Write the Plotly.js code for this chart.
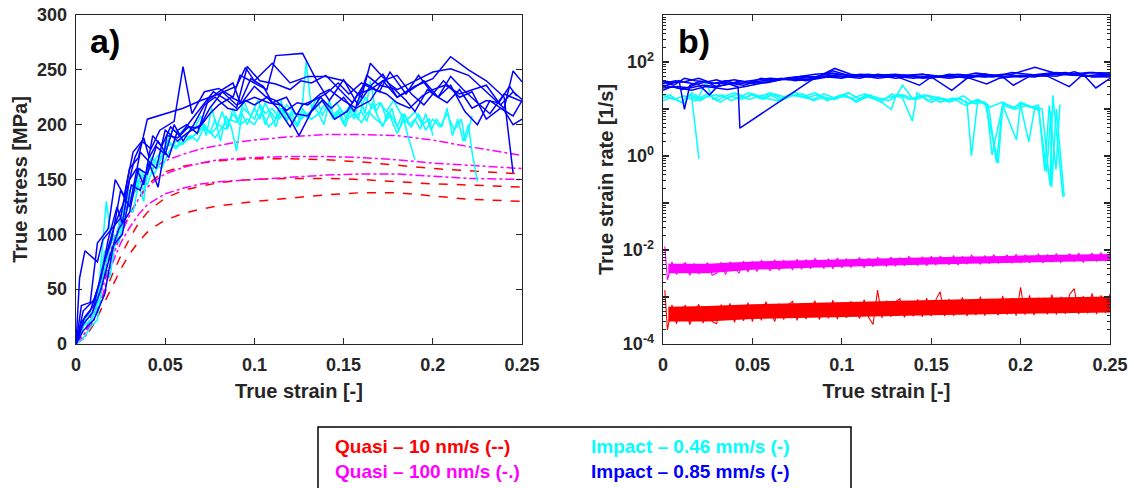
<!DOCTYPE html>
<html>
<head>
<meta charset="utf-8">
<script src="https://cdn.plot.ly/plotly-3.0.1.min.js"></script>
<style>
html,body{margin:0;padding:0;background:#fff;}
#chart{width:1134px;height:488px;}
</style>
</head>
<body>
<div id="chart"></div>
<script>
// ---------- Panel a) true stress vs true strain ----------
// Impact 0.85 mm/s (blue, 7 tests)
const b1x = [0,0.002,0.005,0.012,0.015,0.02,0.025,0.03,0.035,0.04,0.05,0.06,0.07,0.08,0.09,0.095,0.1,0.11,0.12,0.13,0.14,0.15,0.16,0.165,0.175,0.18,0.19,0.2,0.21,0.22,0.23,0.24,0.245,0.25];
const b1y = [0,60,85,75,95,105,115,160,170,205,210,215,222,228,235,252,240,256,238,244,244,240,225,256,238,232,240,248,251,245,230,215,249,239];
const b2x = [0,0.003,0.008,0.012,0.018,0.022,0.027,0.032,0.037,0.042,0.047,0.055,0.06,0.065,0.072,0.08,0.088,0.092,0.1,0.107,0.112,0.127,0.135,0.142,0.15,0.158,0.165,0.172,0.18,0.19,0.2,0.21,0.22,0.23,0.24,0.245];
const b2y = [0,35,38,92,105,150,135,175,185,178,195,203,253,210,230,233,225,245,238,232,263,265,240,222,241,218,235,246,225,235,242,262,250,240,225,156];
const b3x = [0,0.004,0.01,0.014,0.018,0.023,0.026,0.03,0.034,0.038,0.043,0.048,0.053,0.058,0.065,0.07,0.077,0.085,0.09,0.096,0.103,0.112,0.12,0.126,0.132,0.14,0.148,0.155,0.162,0.17,0.176,0.185,0.192,0.2,0.206,0.215,0.222,0.23,0.238,0.245,0.25];
const b3y = [0,30,40,60,95,125,110,150,160,145,190,180,198,190,205,215,230,222,215,253,240,237,232,240,238,245,232,220,238,230,248,228,245,228,240,225,230,205,215,208,222];
const b4x = [0,0.005,0.01,0.015,0.02,0.025,0.03,0.036,0.04,0.045,0.05,0.057,0.062,0.07,0.075,0.082,0.09,0.1,0.108,0.115,0.12,0.125,0.132,0.138,0.145,0.152,0.158,0.165,0.172,0.18,0.188,0.195,0.203,0.21,0.218,0.225,0.232,0.24,0.245,0.25];
const b4y = [0,25,35,70,95,140,125,175,168,160,195,185,192,200,215,230,218,225,220,218,205,190,212,222,205,212,228,232,240,225,232,240,225,236,212,200,222,213,200,205];
const b5x = [0,0.003,0.008,0.013,0.018,0.022,0.027,0.033,0.038,0.041,0.046,0.052,0.057,0.062,0.068,0.074,0.08,0.088,0.092,0.098,0.105,0.11,0.118,0.123,0.13,0.137,0.143,0.15,0.156,0.163,0.17,0.178,0.185,0.19,0.197,0.203,0.21,0.217,0.225,0.232,0.24,0.25];
const b5y = [0,20,30,55,88,110,130,170,188,170,185,170,195,200,192,222,230,238,220,242,235,220,225,210,208,225,215,225,212,245,236,233,222,212,232,225,244,232,220,210,228,221];
const b6x = [0,0.004,0.009,0.014,0.019,0.024,0.03,0.035,0.04,0.045,0.05,0.055,0.06,0.066,0.072,0.078,0.085,0.09,0.095,0.1,0.107,0.113,0.12,0.127,0.133,0.14,0.147,0.153,0.16,0.167,0.174,0.18,0.187,0.194,0.2,0.207,0.215,0.222,0.23,0.238,0.245,0.25];
const b6y = [0,18,28,50,80,105,120,160,155,180,173,200,185,200,218,225,215,213,222,218,225,215,198,218,222,228,238,228,238,232,228,220,215,226,232,236,228,232,236,218,230,223];
const b7x = [0,0.004,0.01,0.016,0.021,0.026,0.031,0.036,0.041,0.046,0.051,0.057,0.063,0.069,0.075,0.08,0.087,0.093,0.1,0.106,0.112,0.118,0.124,0.13,0.137,0.142,0.15,0.157,0.165,0.172,0.18,0.188,0.195,0.2,0.208,0.215,0.222,0.23,0.237,0.243,0.247];
const b7y = [0,12,22,45,90,100,145,140,165,143,190,188,198,197,210,218,225,220,235,226,222,213,220,218,228,232,222,215,222,240,245,228,218,228,220,232,215,222,220,235,226];

// Impact 0.46 mm/s (cyan, 4 tests)
const c1x = [0,0.003,0.006,0.01,0.013,0.017,0.019,0.022,0.026,0.03,0.034,0.038,0.04,0.044,0.048,0.052,0.056,0.06,0.064,0.068,0.072,0.075,0.078,0.081,0.084,0.087,0.09,0.093,0.096,0.1,0.103,0.106,0.109,0.112,0.115,0.118,0.121,0.124,0.127,0.129,0.132,0.135,0.138,0.141,0.144,0.147,0.15,0.153,0.156,0.159,0.162,0.165,0.168,0.171,0.174,0.177,0.18,0.183,0.186,0.19];
const c1y = [0,10,25,30,55,130,105,90,115,140,150,130,165,155,170,185,178,190,188,192,200,192,205,185,208,198,176,210,200,215,205,220,210,198,215,205,212,208,220,257,215,225,208,218,205,212,200,215,205,225,210,240,212,220,205,215,198,210,190,168];
const c2x = [0,0.004,0.008,0.012,0.016,0.019,0.022,0.025,0.029,0.033,0.036,0.039,0.042,0.046,0.05,0.054,0.058,0.062,0.066,0.07,0.073,0.076,0.079,0.082,0.085,0.088,0.091,0.094,0.097,0.1,0.103,0.106,0.109,0.112,0.115,0.118,0.121,0.124,0.127,0.13,0.133,0.136,0.139,0.142,0.145,0.148,0.151,0.154,0.157,0.16,0.163,0.166,0.169,0.172,0.175,0.178,0.181,0.184,0.187,0.19,0.193,0.196,0.199,0.202,0.205,0.208,0.211,0.214,0.217,0.22,0.222,0.225];
const c2y = [0,5,15,22,70,60,95,105,125,145,160,150,170,165,180,195,192,198,195,208,190,215,198,212,196,215,203,222,210,205,218,200,212,205,222,203,210,200,215,205,218,210,200,222,205,212,198,215,208,212,203,220,208,198,212,205,195,210,200,205,196,210,195,205,198,215,190,205,185,200,175,148];
const c3x = [0,0.003,0.007,0.011,0.015,0.018,0.021,0.024,0.028,0.032,0.035,0.038,0.041,0.045,0.049,0.053,0.057,0.061,0.065,0.07,0.074,0.078,0.082,0.086,0.09,0.094,0.098,0.102,0.106,0.11,0.114,0.118,0.122,0.126,0.13,0.134,0.138,0.142,0.146,0.15,0.154,0.158,0.162,0.166,0.17,0.174,0.178,0.182,0.186,0.19,0.194,0.198,0.2];
const c3y = [0,15,20,28,62,80,100,92,120,135,150,140,160,170,178,182,180,185,188,196,195,188,198,205,202,215,208,222,210,215,205,218,212,205,210,215,222,212,220,210,218,205,225,215,220,212,222,210,205,212,200,205,190];
const c4x = [0,0.004,0.008,0.012,0.016,0.02,0.024,0.028,0.032,0.036,0.04,0.044,0.048,0.052,0.056,0.06,0.064,0.068,0.072,0.076,0.08,0.084,0.088,0.092,0.096,0.1,0.104,0.108,0.112,0.116,0.12,0.124,0.128,0.132,0.136,0.14,0.144,0.148,0.152,0.156,0.16,0.164,0.168,0.172,0.176,0.18,0.184,0.188,0.192,0.196,0.2,0.204,0.208,0.212,0.216,0.218,0.22,0.222];
const c4y = [0,20,18,40,85,75,110,130,120,155,145,165,160,175,185,182,190,185,198,192,200,196,210,200,205,200,212,198,205,215,208,198,212,205,210,220,208,215,205,210,202,212,205,200,208,192,205,198,210,195,205,198,210,195,205,185,195,208];

// Quasi-static 10 nm/s (red dashed) and 100 nm/s (magenta dash-dot)
const qx = [0,0.005,0.01,0.015,0.02,0.025,0.03,0.035,0.04,0.045,0.05,0.06,0.07,0.08,0.09,0.1,0.12,0.14,0.16,0.18,0.2,0.22,0.25];
const r1y = [0,12,30,55,80,100,118,133,145,152,157,162,165,167,168,169,169,168,166,163,160,158,155];
const r2y = [0,8,22,42,62,80,96,110,120,127,133,140,144,147,149,150,151,151,150,148,146,145,143];
const r3y = [0,6,18,35,52,68,82,93,102,108,113,119,123,126,128,130,133,136,138,138,135,132,130];
const m1y = [0,10,32,60,88,112,130,145,156,162,167,173,178,181,184,186,189,191,191,190,186,180,172];
const m2y = [0,8,28,52,78,100,117,132,143,150,155,161,165,168,169,170,171,171,170,168,165,163,160];
const m3y = [0,6,22,45,72,92,106,118,127,132,137,142,146,148,149,150,152,154,155,155,153,151,150];

// ---------- Panel b) true strain rate vs true strain ----------
const bb1x = [0,0.005,0.009,0.012,0.015,0.02,0.03,0.04,0.05,0.06,0.07,0.08,0.09,0.1,0.11,0.12,0.13,0.14,0.15,0.16,0.17,0.18,0.19,0.2,0.21,0.22,0.23,0.24,0.25];
const bb1y = [30,35,40,9.8,32,38,35,36,40,45,42,48,50,55,50,52,45,50,48,52,45,55,50,48,55,60,52,50,52];
const bb2x = [0,0.006,0.012,0.018,0.025,0.03,0.036,0.042,0.043,0.083,0.096,0.105,0.115,0.125,0.135,0.145,0.155,0.165,0.175,0.185,0.195,0.208,0.218,0.228,0.238,0.25];
const bb2y = [38,32,45,40,38,42,35,29.5,3.9,41,73,55,50,48,52,55,50,48,58,52,55,77,60,55,50,48];
const bb3x = [0,0.008,0.015,0.022,0.03,0.038,0.045,0.052,0.06,0.07,0.08,0.09,0.1,0.11,0.12,0.13,0.1434,0.15,0.1615,0.17,0.18,0.19,0.196,0.205,0.215,0.225,0.235,0.245,0.25];
const bb3y = [28,30,28,32,30,35,32,38,42,45,40,50,48,52,45,50,32,48,25,45,52,48,32,50,55,60,50,55,52];
const bb4x = [0,0.007,0.014,0.02,0.026,0.033,0.04,0.048,0.055,0.062,0.07,0.078,0.085,0.095,0.105,0.115,0.125,0.135,0.145,0.155,0.165,0.175,0.185,0.195,0.205,0.215,0.2272,0.235,0.2421,0.25];
const bb4y = [35,40,36,33,20,38,42,36,45,40,46,50,45,65,50,55,48,52,45,50,55,50,48,60,55,50,30,55,28,45];
const bb5x = [0,0.008,0.016,0.024,0.03,0.036,0.046,0.055,0.065,0.075,0.085,0.095,0.105,0.115,0.125,0.135,0.145,0.155,0.168,0.181,0.188,0.198,0.208,0.218,0.228,0.238,0.25];
const bb5y = [32,28,25,30,28,26,30,35,42,48,55,58,50,48,52,50,55,48,50,34,45,50,48,60,55,60,58];
const bb6x = [0,0.006,0.012,0.02,0.028,0.035,0.042,0.05,0.058,0.066,0.075,0.083,0.092,0.1,0.11,0.12,0.13,0.14,0.15,0.16,0.17,0.18,0.19,0.2,0.21,0.22,0.23,0.24,0.25];
const bb6y = [40,36,38,45,35,40,34,38,36,42,45,42,48,45,55,52,55,50,45,55,52,48,55,50,52,50,62,48,50];
const bb7x = [0,0.005,0.011,0.017,0.024,0.03,0.036,0.043,0.05,0.058,0.066,0.074,0.082,0.09,0.1,0.11,0.12,0.13,0.14,0.15,0.16,0.17,0.18,0.19,0.2,0.21,0.22,0.23,0.24,0.25];
const bb7y = [25,30,26,32,38,30,33,40,35,38,45,40,44,55,50,45,55,50,45,50,45,50,55,48,52,50,55,52,60,55];

const cb1x = [0,0.004,0.008,0.012,0.016,0.02,0.024,0.028,0.033,0.038,0.043,0.048,0.054,0.06,0.066,0.072,0.078,0.084,0.09,0.096,0.102,0.108,0.114,0.12,0.1277,0.13,0.134,0.14,0.146,0.152,0.158,0.164,0.17,0.1725,0.176,0.181,0.184,0.19,0.196,0.2,0.206,0.21,0.2135,0.216,0.2198,0.222];
const cb1y = [17,20,15,13,22,18,38,16,20,15,18,22,17,20,15,19,21,15,18,16,20,14,18,16,9.8,18,32,16,20,18,15,17,14,1.0,15,13,1.06,12,10,14,11,12,0.48,12,0.52,12.5];
const cb2x = [0,0.005,0.01,0.015,0.02,0.025,0.03,0.035,0.04,0.045,0.05,0.056,0.062,0.068,0.074,0.08,0.086,0.092,0.098,0.104,0.11,0.116,0.122,0.128,0.134,0.1395,0.142,0.148,0.154,0.16,0.166,0.17,0.176,0.182,0.1865,0.19,0.196,0.2,0.2046,0.208,0.212,0.2165,0.218,0.2237];
const cb2y = [15,18,14,20,17,21,15,19,22,17,20,16,21,18,23,17,20,15,19,22,16,20,14,21,17,5.5,22,15,18,14,17,13,16,12,0.72,13,11,12,2.0,11,10,0.23,19.6,0.135];
const cb3x = [0,0.006,0.012,0.018,0.024,0.03,0.036,0.042,0.048,0.054,0.06,0.066,0.072,0.078,0.084,0.09,0.096,0.102,0.108,0.114,0.12,0.126,0.132,0.138,0.144,0.15,0.156,0.162,0.168,0.174,0.18,0.1875,0.19,0.1977,0.2,0.205,0.21,0.2146,0.217,0.2174,0.22,0.2244];
const cb3y = [20,16,19,15,18,20,17,21,16,19,22,17,20,18,16,21,17,19,15,20,17,15,20,16,19,14,17,15,19,13,14,0.7,12,2.2,13,11,10,0.45,9,0.22,10,0.137];
const cb4x = [0.0201,0.016,0.021,0.026,0.032,0.038,0.044,0.05,0.057,0.064,0.071,0.078,0.085,0.092,0.099,0.106,0.113,0.12,0.127,0.134,0.141,0.148,0.155,0.162,0.169,0.176,0.183,0.19,0.197,0.204,0.211];
const cb4y = [0.88,18,15,20,14,19,16,21,17,15,20,18,22,16,19,17,21,15,18,20,16,19,14,17,12,15,11,14,10,12,9];

// quasi-static strain rates (noisy records)
const rateX = [0.001,0.0025,0.005,0.0075,0.01,0.0125,0.015,0.0175,0.02,0.0225,0.025,0.0275,0.03,0.0325,0.035,0.0375,0.04,0.0425,0.045,0.0475,0.05,0.0525,0.055,0.0575,0.06,0.0625,0.065,0.0675,0.07,0.0725,0.075,0.0775,0.08,0.0825,0.085,0.0875,0.09,0.0925,0.095,0.0975,0.1,0.1025,0.105,0.1075,0.11,0.1125,0.115,0.1175,0.12,0.1225,0.125,0.1275,0.13,0.1325,0.135,0.1375,0.14,0.1425,0.145,0.1475,0.15,0.1525,0.155,0.1575,0.16,0.1625,0.165,0.1675,0.17,0.1725,0.175,0.1775,0.18,0.1825,0.185,0.1875,0.19,0.1925,0.195,0.1975,0.2,0.2025,0.205,0.2075,0.21,0.2125,0.215,0.2175,0.22,0.2225,0.225,0.2275,0.23,0.2325,0.235,0.2375,0.24,0.2425,0.245,0.2475,0.25];
const rateRed = [14e-4,
 2.0e-4,6.8e-4,2.7e-4,5.5e-4,6.6e-4,2.6e-4,4.8e-4,7.0e-4,2.8e-4,6.2e-4,
 3.0e-4,2.7e-4,6.9e-4,4.2e-4,7.3e-4,2.9e-4,6.1e-4,3.1e-4,7.6e-4,3.0e-4,
 6.4e-4,3.2e-4,7.9e-4,5.0e-4,3.0e-4,7.2e-4,3.3e-4,6.8e-4,8.0e-4,3.2e-4,
 7.4e-4,3.4e-4,5.2e-4,8.3e-4,3.3e-4,7.0e-4,3.5e-4,8.6e-4,3.4e-4,7.7e-4,
 3.6e-4,8.1e-4,4.9e-4,3.5e-4,8.8e-4,3.7e-4,2.6e-4,14e-4,3.6e-4,8.4e-4,
 3.8e-4,7.9e-4,9.2e-4,3.7e-4,6.0e-4,3.9e-4,8.9e-4,3.8e-4,9.5e-4,3.9e-4,
 8.6e-4,13e-4,3.9e-4,9.0e-4,4.0e-4,6.4e-4,9.8e-4,3.9e-4,8.8e-4,4.1e-4,
 10.2e-4,4.0e-4,9.1e-4,5.5e-4,4.1e-4,10.5e-4,4.2e-4,9.4e-4,4.0e-4,16e-4,
 4.2e-4,10.8e-4,4.1e-4,9.6e-4,6.0e-4,4.3e-4,11.2e-4,4.2e-4,10.0e-4,4.4e-4,
 11.5e-4,15e-4,4.3e-4,10.4e-4,4.5e-4,12e-4,4.3e-4,10.8e-4,4.6e-4,11.6e-4];
const rateMag = [12e-3,
 2.3e-3,5.6e-3,3.0e-3,4.6e-3,5.4e-3,2.9e-3,5.2e-3,3.1e-3,4.4e-3,5.3e-3,
 2.9e-3,3.2e-3,5.5e-3,3.0e-3,5.6e-3,4.3e-3,3.2e-3,5.8e-3,3.4e-3,5.7e-3,
 3.5e-3,6.0e-3,4.8e-3,3.6e-3,6.2e-3,3.7e-3,6.0e-3,5.0e-3,3.8e-3,6.4e-3,
 3.9e-3,6.3e-3,4.0e-3,6.6e-3,5.2e-3,4.1e-3,6.5e-3,4.0e-3,6.8e-3,4.2e-3,
 6.6e-3,4.3e-3,5.6e-3,6.9e-3,4.2e-3,6.7e-3,4.4e-3,7.0e-3,5.8e-3,4.5e-3,
 7.1e-3,4.5e-3,6.9e-3,4.6e-3,7.3e-3,5.9e-3,4.7e-3,7.2e-3,4.6e-3,7.4e-3,
 4.8e-3,7.3e-3,6.2e-3,4.9e-3,7.6e-3,4.8e-3,7.4e-3,5.0e-3,7.8e-3,6.3e-3,
 5.0e-3,7.6e-3,5.1e-3,7.9e-3,5.2e-3,6.6e-3,7.8e-3,5.2e-3,8.1e-3,5.3e-3,
 7.9e-3,5.4e-3,6.8e-3,8.2e-3,5.3e-3,8.0e-3,5.5e-3,8.4e-3,5.4e-3,7.0e-3,
 8.3e-3,5.6e-3,8.6e-3,5.5e-3,7.2e-3,8.5e-3,5.7e-3,8.8e-3,5.8e-3,8.6e-3];
// band envelopes of the dense records
const envX = [0.003,0.025,0.05,0.1,0.15,0.2,0.25];
const redLow = [3.0e-4,3.0e-4,3.4e-4,3.8e-4,4.1e-4,4.4e-4,4.7e-4];
const redHigh = [6.2e-4,6.4e-4,7.0e-4,7.8e-4,8.6e-4,9.5e-4,10.3e-4];
const magLow = [3.2e-3,3.2e-3,3.8e-3,4.4e-3,4.9e-3,5.4e-3,5.9e-3];
const magHigh = [5.1e-3,5.1e-3,5.7e-3,6.4e-3,7.0e-3,7.6e-3,8.2e-3];

// ---------- Labels ----------
const xTickVals = [0,0.05,0.1,0.15,0.2,0.25];
const xTickText = ['0','0.05','0.1','0.15','0.2','0.25'];
const yLogVals = [1e-4,1e-2,1,100];
const yLogText = ['10<sup>-4</sup>','10<sup>-2</sup>','10<sup>0</sup>','10<sup>2</sup>'];
const yLogOddVals = [1e-3,1e-1,10,1000];
const legendRows = [
  {text:'Quasi – 10 nm/s (--)', color:'#ff0000', col:0, row:0},
  {text:'Quasi – 100 nm/s (-.)', color:'#ff00ff', col:0, row:1},
  {text:'Impact – 0.46 mm/s (-)', color:'#00ffff', col:1, row:0},
  {text:'Impact – 0.85 mm/s (-)', color:'#0000ff', col:1, row:1}
];

const BLUE='#0000ff', CYAN='#00ffff', RED='#ff0000', MAG='#ff00ff';
const traces = [];
function line(x,y,color,dash,xa,ya,w){
  traces.push({x:x,y:y,type:'scatter',mode:'lines',xaxis:xa,yaxis:ya,
    line:{color:color,width:w||1.5,dash:dash||'solid'},hoverinfo:'skip',showlegend:false});
}
// panel a
[[r1y],[r2y],[r3y]].forEach(a=>line(qx,a[0],RED,'dash','x','y',1.5));
[[m1y],[m2y],[m3y]].forEach(a=>line(qx,a[0],MAG,'dashdot','x','y',1.5));
line(c1x,c1y,CYAN,'solid','x','y');
line(c2x,c2y,CYAN,'solid','x','y');
line(c3x,c3y,CYAN,'solid','x','y');
line(c4x,c4y,CYAN,'solid','x','y');
[[b1x,b1y],[b2x,b2y],[b3x,b3y],[b4x,b4y],[b5x,b5y],[b6x,b6y],[b7x,b7y]].forEach(p=>line(p[0],p[1],BLUE,'solid','x','y'));
// panel b
function band(lo,hi,color){
  traces.push({x:envX,y:lo,type:'scatter',mode:'lines',xaxis:'x2',yaxis:'y2',line:{width:0,color:color},hoverinfo:'skip',showlegend:false});
  traces.push({x:envX,y:hi,type:'scatter',mode:'lines',xaxis:'x2',yaxis:'y2',line:{width:0,color:color},fill:'tonexty',fillcolor:color,hoverinfo:'skip',showlegend:false});
}
band(redLow,redHigh,RED);
band(magLow,magHigh,MAG);
line(rateX,rateRed,RED,'solid','x2','y2',1.1);
line(rateX,rateMag,MAG,'solid','x2','y2',1.1);
[[cb1x,cb1y],[cb2x,cb2y],[cb3x,cb3y],[cb4x,cb4y]].forEach(p=>line(p[0],p[1],CYAN,'solid','x2','y2'));
[[bb1x,bb1y],[bb2x,bb2y],[bb3x,bb3y],[bb4x,bb4y],[bb5x,bb5y],[bb6x,bb6y],[bb7x,bb7y]].forEach(p=>line(p[0],p[1],BLUE,'solid','x2','y2'));

const FONT = 'Liberation Sans, Arial, sans-serif';
const AX = '#262626';
const tickFont = {family:FONT,size:18,color:AX,weight:'bold'};
const titleFont = {family:FONT,size:20,color:AX,weight:'bold'};
function xAxis(domain, anchor){
  return {domain:domain,anchor:anchor,range:[0,0.25],tickmode:'array',tickvals:xTickVals,ticktext:xTickText,
    ticks:'inside',ticklen:6,tickwidth:1.3,tickcolor:AX,showline:true,linecolor:AX,linewidth:1.3,mirror:'ticks',
    showgrid:false,zeroline:false,tickfont:tickFont,ticklabelstandoff:4,
    title:{text:'True strain [-]',font:titleFont,standoff:10}};
}
const W=1134,H=488;
const xdA=[76/W,522/W], xdB=[663/W,1110/W], yd=[1-344/H,1-15/H];
const layout = {
  width:W,height:H,margin:{l:0,r:0,t:0,b:0,pad:0},
  paper_bgcolor:'#ffffff',plot_bgcolor:'#ffffff',showlegend:false,
  xaxis:xAxis(xdA,'y'),
  xaxis2:xAxis(xdB,'y2'),
  yaxis:{domain:yd,anchor:'x',range:[0,300],tickmode:'array',tickvals:[0,50,100,150,200,250,300],
    ticks:'inside',ticklen:6,tickwidth:1.3,tickcolor:AX,showline:true,linecolor:AX,linewidth:1.3,mirror:'ticks',
    showgrid:false,zeroline:false,tickfont:tickFont,ticklabelstandoff:4,
    title:{text:'True stress [MPa]',font:titleFont,standoff:4}},
  yaxis2:{domain:yd,anchor:'x2',type:'log',range:[-4,3],tickmode:'array',tickvals:yLogVals,ticktext:yLogText,
    ticks:'inside',ticklen:6,tickwidth:1.3,tickcolor:AX,showline:true,linecolor:AX,linewidth:1.3,mirror:'ticks',
    minor:{ticks:'inside',ticklen:3,tickwidth:1,tickcolor:AX,dtick:'D1',showgrid:false},
    showgrid:false,zeroline:false,tickfont:tickFont,ticklabelstandoff:4,
    title:{text:'True strain rate [1/s]',font:titleFont,standoff:4}},
  yaxis3:{domain:yd,anchor:'x2',overlaying:'y2',type:'log',range:[-4,3],tickmode:'array',tickvals:yLogOddVals,
    showticklabels:false,ticks:'inside',ticklen:6,tickwidth:1.3,tickcolor:AX,showline:false,mirror:'ticks',
    showgrid:false,zeroline:false},
  shapes:[{type:'rect',xref:'paper',yref:'paper',x0:318/W,x1:851/W,y0:1-495/H,y1:1-427/H,
    line:{color:'#000000',width:1.5},fillcolor:'rgba(0,0,0,0)'}],
  annotations:[
    {text:'a)',xref:'paper',yref:'paper',x:88/W,y:1-41/H,xanchor:'left',yanchor:'middle',showarrow:false,
      font:{family:FONT,size:34,color:'#000',weight:'bold'}},
    {text:'b)',xref:'paper',yref:'paper',x:676/W,y:1-41/H,xanchor:'left',yanchor:'middle',showarrow:false,
      font:{family:FONT,size:34,color:'#000',weight:'bold'}}
  ]
};
// invisible anchor trace for the odd-decade tick axis
traces.push({x:[0.1],y:[1],type:'scatter',mode:'markers',xaxis:'x2',yaxis:'y3',marker:{opacity:0},hoverinfo:'skip',showlegend:false});
legendRows.forEach(r=>{
  layout.annotations.push({text:r.text,xref:'paper',yref:'paper',x:(r.col===0?333:589)/W,y:1-(r.row===0?446:471)/H,
    xanchor:'left',yanchor:'middle',showarrow:false,font:{family:FONT,size:19,color:r.color,weight:'bold'}});
});
Plotly.newPlot('chart',traces,layout,{staticPlot:true,displayModeBar:false});
</script>
</body>
</html>
